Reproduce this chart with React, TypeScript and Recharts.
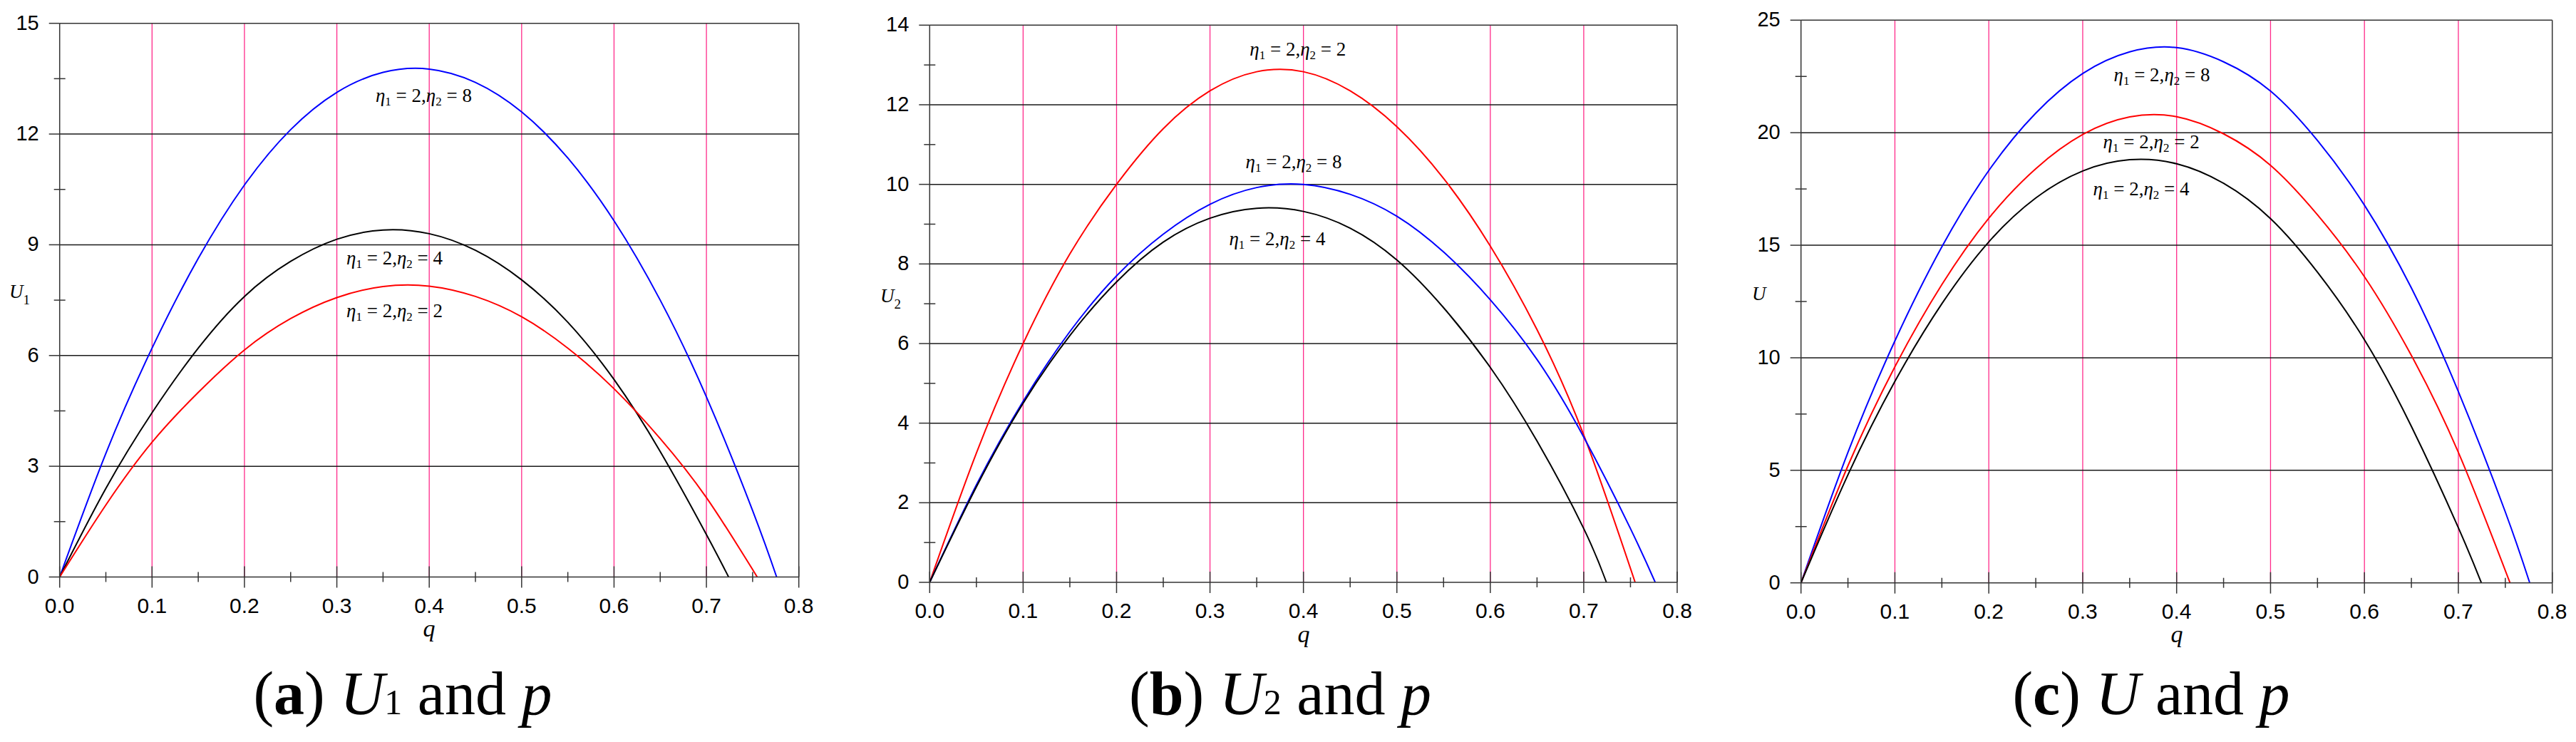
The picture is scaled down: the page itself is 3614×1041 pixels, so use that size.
import React from 'react';
import { LineChart, Line, XAxis, YAxis, ReferenceLine, ReferenceDot } from 'recharts';

// ---------- shared axis ticks ----------
const qTicks = [0, 0.05, 0.1, 0.15, 0.2, 0.25, 0.3, 0.35, 0.4, 0.45, 0.5, 0.55, 0.6, 0.65, 0.7, 0.75, 0.8];
const qGrid = [0.1, 0.2, 0.3, 0.4, 0.5, 0.6, 0.7];

// ---------- panel (a): U1 ----------
const yTicksA = [0, 1.5, 3, 4.5, 6, 7.5, 9, 10.5, 12, 13.5, 15];
const yGridA = [3, 6, 9, 12];
const qA_eta8 = [0, 0.05, 0.1, 0.15, 0.2, 0.25, 0.3, 0.35, 0.4, 0.45, 0.5, 0.55, 0.6, 0.65, 0.7, 0.75, 0.776];
const uA_eta8 = [0, 3.35, 6.2, 8.63, 10.62, 12.12, 13.13, 13.67, 13.76, 13.4, 12.6, 11.35, 9.65, 7.5, 4.88, 1.8, 0];
const qA_eta4 = [0, 0.05, 0.1, 0.15, 0.2, 0.25, 0.3, 0.35, 0.4, 0.45, 0.5, 0.55, 0.6, 0.65, 0.7, 0.724];
const uA_eta4 = [0, 2.4, 4.45, 6.2, 7.6, 8.55, 9.15, 9.4, 9.3, 8.85, 8.05, 6.9, 5.35, 3.4, 1.15, 0];
const qA_eta2 = [0, 0.05, 0.1, 0.15, 0.2, 0.25, 0.3, 0.35, 0.4, 0.45, 0.5, 0.55, 0.6, 0.65, 0.7, 0.755];
const uA_eta2 = [0, 1.95, 3.65, 5.0, 6.15, 7.0, 7.57, 7.87, 7.88, 7.6, 7.05, 6.2, 5.1, 3.75, 2.15, 0];

// ---------- panel (b): U2 ----------
const yTicksB = [0, 1, 2, 3, 4, 5, 6, 7, 8, 9, 10, 11, 12, 13, 14];
const yGridB = [2, 4, 6, 8, 10, 12];
const qB_eta2 = [0, 0.05, 0.1, 0.15, 0.2, 0.25, 0.3, 0.35, 0.4, 0.45, 0.5, 0.55, 0.6, 0.65, 0.7, 0.755];
const uB_eta2 = [0, 3.25, 6.0, 8.25, 10.0, 11.4, 12.35, 12.83, 12.83, 12.35, 11.45, 10.15, 8.45, 6.35, 3.7, 0];
const qB_eta8 = [0, 0.05, 0.1, 0.15, 0.2, 0.25, 0.3, 0.35, 0.4, 0.45, 0.5, 0.55, 0.6, 0.65, 0.7, 0.75, 0.7765];
const uB_eta8 = [0, 2.45, 4.55, 6.3, 7.7, 8.75, 9.5, 9.92, 10.0, 9.75, 9.2, 8.3, 7.1, 5.6, 3.65, 1.35, 0];
const qB_eta4 = [0, 0.05, 0.1, 0.15, 0.2, 0.25, 0.3, 0.35, 0.4, 0.45, 0.5, 0.55, 0.6, 0.65, 0.7, 0.7243];
const uB_eta4 = [0, 2.4, 4.5, 6.2, 7.55, 8.55, 9.15, 9.4, 9.32, 8.9, 8.1, 6.9, 5.4, 3.55, 1.35, 0];

// ---------- panel (c): U ----------
const yTicksC = [0, 2.5, 5, 7.5, 10, 12.5, 15, 17.5, 20, 22.5, 25];
const yGridC = [5, 10, 15, 20];
const qC_eta8 = [0, 0.05, 0.1, 0.15, 0.2, 0.25, 0.3, 0.35, 0.4, 0.45, 0.5, 0.55, 0.6, 0.65, 0.7, 0.75, 0.776];
const uC_eta8 = [0, 5.8, 10.75, 14.93, 18.32, 20.87, 22.63, 23.59, 23.78, 23.15, 21.85, 19.65, 16.78, 13.1, 8.5, 3.15, 0];
const qC_eta2 = [0, 0.05, 0.1, 0.15, 0.2, 0.25, 0.3, 0.35, 0.4, 0.45, 0.5, 0.55, 0.6, 0.65, 0.7, 0.755];
const uC_eta2 = [0, 5.2, 9.6, 13.25, 16.2, 18.4, 19.92, 20.7, 20.71, 19.95, 18.55, 16.35, 13.6, 10.1, 5.8, 0];
const qC_eta4 = [0, 0.05, 0.1, 0.15, 0.2, 0.25, 0.3, 0.35, 0.4, 0.45, 0.5, 0.55, 0.6, 0.65, 0.7, 0.7245];
const uC_eta4 = [0, 4.8, 8.95, 12.4, 15.15, 17.1, 18.3, 18.8, 18.62, 17.75, 16.18, 13.8, 10.8, 6.95, 2.45, 0];

// label anchor points (q, U) for the η annotations
const annoA = [{ q: 0.394, u: 12.87, n2: '8' }, { q: 0.3625, u: 8.47, n2: '4' }, { q: 0.3625, u: 7.04, n2: '2' }];
const annoB = [{ q: 0.394, u: 13.23, n2: '2' }, { q: 0.3896, u: 10.4, n2: '8' }, { q: 0.372, u: 8.47, n2: '4' }];
const annoC = [{ q: 0.3843, u: 22.29, n2: '8' }, { q: 0.373, u: 19.31, n2: '2' }, { q: 0.3623, u: 17.22, n2: '4' }];

const zip = (qs: number[], us: number[]) => qs.map((q, i) => ({ q, u: us[i] }));

const SANS = "'Liberation Sans', Arial, sans-serif";
const SERIF = "'Liberation Serif', 'Times New Roman', serif";
const AXIS = '#333333';
const PINK = '#ff2a8a';

const XTick = (props: any) => {
  const { x, y, payload } = props;
  const v = payload.value as number;
  const major = Math.abs(v * 10 - Math.round(v * 10)) < 1e-6;
  const len = major ? 15 : 7;
  return (
    <g>
      <line x1={x} x2={x} y1={y - len} y2={y + len} stroke={AXIS} strokeWidth={1.5} />
      {major && (
        <text x={x} y={y + 50} textAnchor="middle" fontFamily={SANS} fontSize={30} fill="#000">
          {v.toFixed(1)}
        </text>
      )}
    </g>
  );
};

const makeYTick = (step: number) => (props: any) => {
  const { x, y, payload } = props;
  const v = payload.value as number;
  const major = Math.abs(v / step - Math.round(v / step)) < 1e-6;
  return (
    <g>
      {major ? (
        <line x1={x - 15} x2={x} y1={y} y2={y} stroke={AXIS} strokeWidth={1.5} />
      ) : (
        <line x1={x - 8} x2={x + 8} y1={y} y2={y} stroke={AXIS} strokeWidth={1.5} />
      )}
      {major && (
        <text x={x - 29} y={y + 9} textAnchor="end" fontFamily={SANS} fontSize={29} fill="#000">
          {String(v)}
        </text>
      )}
    </g>
  );
};

const AnnoLabel = (props: any) => {
  const { viewBox, n2 } = props;
  if (!viewBox) return null;
  const cx = viewBox.x + (viewBox.width || 0) / 2;
  const cy = viewBox.y + (viewBox.height || 0) / 2;
  return (
    <text x={cx} y={cy} textAnchor="middle" fontFamily={SERIF} fontSize={27} fill="#000" style={{ whiteSpace: 'pre' }}>
      <tspan fontStyle="italic">η</tspan>
      <tspan fontSize={17} dy={5}>1</tspan>
      <tspan dy={-5}>{' = 2,'}</tspan>
      <tspan fontStyle="italic">η</tspan>
      <tspan fontSize={17} dy={5}>2</tspan>
      <tspan dy={-5}>{' = ' + n2}</tspan>
    </text>
  );
};

type Series = { data: { q: number; u: number }[]; color: string; name: string };

type PanelProps = {
  left: number;
  width: number;
  margin: { top: number; right: number; bottom: number; left: number };
  yMax: number;
  yTicks: number[];
  yGrid: number[];
  yStep: number;
  series: Series[];
  annos: { q: number; u: number; n2: string }[];
};

const Panel = (p: PanelProps) => (
  <div style={{ position: 'absolute', left: p.left, top: 0 }}>
    <LineChart width={p.width} height={1041} margin={p.margin}>
      <XAxis
        type="number"
        dataKey="q"
        domain={[0, 0.8]}
        ticks={qTicks}
        interval={0}
        height={60}
        tickLine={false}
        tickSize={0}
        tickMargin={0}
        tick={XTick}
        axisLine={{ stroke: AXIS, strokeWidth: 1.5 }}
        allowDataOverflow
      />
      <YAxis
        type="number"
        domain={[0, p.yMax]}
        ticks={p.yTicks}
        interval={0}
        width={60}
        tickLine={false}
        tickSize={0}
        tickMargin={0}
        tick={makeYTick(p.yStep)}
        axisLine={{ stroke: AXIS, strokeWidth: 1.5 }}
        allowDataOverflow
      />
      {qGrid.map((v) => (
        <ReferenceLine key={'vx' + v} x={v} stroke={PINK} strokeWidth={1.3} />
      ))}
      {p.yGrid.map((v) => (
        <ReferenceLine key={'hy' + v} y={v} stroke="#1a1a1a" strokeWidth={1.5} />
      ))}
      <ReferenceLine y={p.yMax} stroke={AXIS} strokeWidth={1.5} />
      <ReferenceLine x={0.8} stroke={AXIS} strokeWidth={1.5} />
      {p.series.map((s) => (
        <Line
          key={s.name}
          data={s.data}
          dataKey="u"
          name={s.name}
          type="natural"
          stroke={s.color}
          strokeWidth={2}
          dot={false}
          isAnimationActive={false}
        />
      ))}
      {p.annos.map((a, i) => (
        <ReferenceDot
          key={'a' + i}
          x={a.q}
          y={a.u}
          r={1}
          fill="none"
          stroke="none"
          label={<AnnoLabel n2={a.n2} />}
        />
      ))}
    </LineChart>
  </div>
);

const BLUE = '#0000ff';
const RED = '#ff0000';
const BLACK = '#000000';

const Caption = ({ cx, letter, sub, base }: { cx: number; letter: string; sub: string; base: string }) => (
  <text x={cx} y={1002} textAnchor="middle" fontFamily={SERIF} fontSize={86} fill="#000" style={{ whiteSpace: 'pre' }}>
    <tspan>(</tspan>
    <tspan fontWeight="bold">{letter}</tspan>
    <tspan>{') '}</tspan>
    <tspan fontStyle="italic">{base}</tspan>
    {sub && <tspan fontSize={50}>{sub}</tspan>}
    <tspan>{' and '}</tspan>
    <tspan fontStyle="italic">p</tspan>
  </text>
);

export default function App() {
  return (
    <div style={{ position: 'absolute', left: 0, top: 0, width: 3614, height: 1041, background: '#ffffff', overflow: 'hidden' }}>
      <Panel
        left={0}
        width={1200}
        margin={{ top: 32.7, right: 79.3, bottom: 171.5, left: 23.7 }}
        yMax={15}
        yTicks={yTicksA}
        yGrid={yGridA}
        yStep={3}
        series={[
          { name: 'eta8', data: zip(qA_eta8, uA_eta8), color: BLUE },
          { name: 'eta4', data: zip(qA_eta4, uA_eta4), color: BLACK },
          { name: 'eta2', data: zip(qA_eta2, uA_eta2), color: RED },
        ]}
        annos={annoA}
      />
      <Panel
        left={1200}
        width={1200}
        margin={{ top: 35.3, right: 47, bottom: 164, left: 44.3 }}
        yMax={14}
        yTicks={yTicksB}
        yGrid={yGridB}
        yStep={2}
        series={[
          { name: 'eta2', data: zip(qB_eta2, uB_eta2), color: RED },
          { name: 'eta8', data: zip(qB_eta8, uB_eta8), color: BLUE },
          { name: 'eta4', data: zip(qB_eta4, uB_eta4), color: BLACK },
        ]}
        annos={annoB}
      />
      <Panel
        left={2400}
        width={1214}
        margin={{ top: 28.3, right: 33.3, bottom: 163.3, left: 66.7 }}
        yMax={25}
        yTicks={yTicksC}
        yGrid={yGridC}
        yStep={5}
        series={[
          { name: 'eta8', data: zip(qC_eta8, uC_eta8), color: BLUE },
          { name: 'eta2', data: zip(qC_eta2, uC_eta2), color: RED },
          { name: 'eta4', data: zip(qC_eta4, uC_eta4), color: BLACK },
        ]}
        annos={annoC}
      />
      <svg width={3614} height={1041} style={{ position: 'absolute', left: 0, top: 0, pointerEvents: 'none' }}>
        {/* y-axis titles */}
        <text x={13} y={418} fontFamily={SERIF} fontSize={27} fill="#000">
          <tspan fontStyle="italic">U</tspan>
          <tspan fontSize={19} dy={9}>1</tspan>
        </text>
        <text x={1235} y={424} fontFamily={SERIF} fontSize={27} fill="#000">
          <tspan fontStyle="italic">U</tspan>
          <tspan fontSize={19} dy={9}>2</tspan>
        </text>
        <text x={2458} y={421} fontFamily={SERIF} fontSize={27} fill="#000">
          <tspan fontStyle="italic">U</tspan>
        </text>
        {/* x-axis titles */}
        <text x={602} y={893} textAnchor="middle" fontFamily={SERIF} fontStyle="italic" fontSize={34} fill="#000">q</text>
        <text x={1829} y={901} textAnchor="middle" fontFamily={SERIF} fontStyle="italic" fontSize={34} fill="#000">q</text>
        <text x={3054} y={901} textAnchor="middle" fontFamily={SERIF} fontStyle="italic" fontSize={34} fill="#000">q</text>
        {/* captions */}
        <Caption cx={565} letter="a" base="U" sub="1" />
        <Caption cx={1796} letter="b" base="U" sub="2" />
        <Caption cx={3018} letter="c" base="U" sub="" />
      </svg>
    </div>
  );
}
